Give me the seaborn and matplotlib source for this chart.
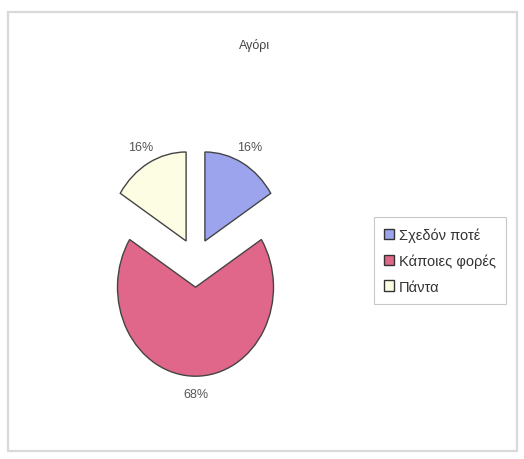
import matplotlib
matplotlib.use("Agg")
import matplotlib.pyplot as plt
from matplotlib.patches import Rectangle, Patch
import seaborn as sns

# Data
title = "Αγόρι"
categories = ["Σχεδόν ποτέ", "Κάποιες φορές", "Πάντα"]
values = [16, 68, 16]
colors = ["#9ca4ee", "#e0678a", "#fdfde4"]

sns.set_theme(style="white")
plt.rcParams['font.family'] = ['Liberation Sans', 'DejaVu Sans']

W, H = 524, 460
fig = plt.figure(figsize=(W / 100, H / 100), dpi=100)
fig.patch.set_facecolor("white")

# outer chart-area frame
fig.add_artist(Rectangle((8 / W, 1 - 452 / H), (517 - 8) / W, (452 - 13) / H,
                         transform=fig.transFigure, fill=False,
                         edgecolor="#d9d9d9", linewidth=1.6))

# pie axes (slightly elliptical, as in the reference)
cx, cy = 195.5, 261.5
rx, ry = 78.0, 89.0
xl, yl = 2.5, 2.2
ax = fig.add_axes([(cx - xl * rx) / W, (H - (cy + yl * ry)) / H,
                   2 * xl * rx / W, 2 * yl * ry / H])
wedges, texts, autotexts = ax.pie(
    values, colors=colors, startangle=90, counterclock=False,
    explode=[0.25, 0.3, 0.25], autopct="%1.0f%%", pctdistance=1.2,
    wedgeprops=dict(edgecolor="#444444", linewidth=1.0),
    textprops=dict(color="#555555", fontsize=9))
ax.set_xlim(-xl, xl)
ax.set_ylim(-yl, yl)
ax.set_aspect("auto")
ax.axis("off")
for w in wedges:
    w.set_clip_on(False)

fig.text(255 / W, 1 - 45 / H, title, ha="center", va="center",
         fontsize=9, color="#444444")

handles = [Patch(facecolor=c, edgecolor="#333333", linewidth=1.0) for c in colors]
leg = fig.legend(handles, categories, loc="upper left",
                 bbox_to_anchor=(374 / W, 1 - 218 / H),
                 frameon=True, fancybox=False, fontsize=10.5,
                 handlelength=0.7, handleheight=0.7, handletextpad=0.3,
                 labelspacing=0.8, borderpad=0.7, borderaxespad=0)
leg.get_frame().set_edgecolor("#bbbbbb")
leg.get_frame().set_linewidth(0.8)
for t in leg.get_texts():
    t.set_color("#333333")

fig.savefig("out.png", dpi=100, facecolor="white")
